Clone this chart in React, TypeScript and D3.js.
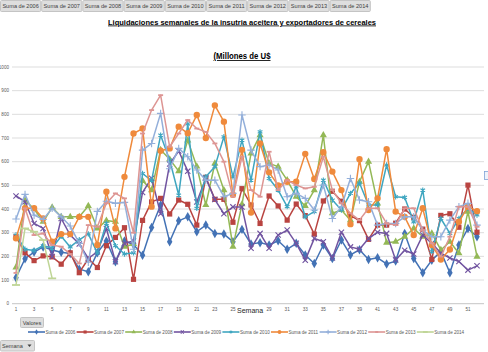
import React, { useEffect, useRef } from 'react';
import * as d3 from 'd3';

const weeks = [
  1, 2, 3, 4, 5, 6, 7, 8, 9, 10, 11, 12, 13, 14, 15, 16, 17, 18, 19, 20, 21, 22, 23, 24, 25, 26,
  27, 28, 29, 30, 31, 32, 33, 34, 35, 36, 37, 38, 39, 40, 41, 42, 43, 44, 45, 46, 47, 48, 49, 50, 51, 52,
];
// week 27's label sits under the "Semana" axis title in the original, so it is not drawn
const hiddenWeekLabels = [27];
const yTicks = [0, 100, 200, 300, 400, 500, 600, 700, 800, 900, 1000];
const seriesNames = [
  'Suma de 2006', 'Suma de 2007', 'Suma de 2008', 'Suma de 2009', 'Suma de 2010',
  'Suma de 2011', 'Suma de 2012', 'Suma de 2013', 'Suma de 2014',
];

const s2006 = [110, 190, 218, 240, 227, 217, 212, 146, 135, 215, 265, 177, 265, 250, 205, 322, 417, 262, 350, 367, 304, 332, 297, 294, 262, 314,
  252, 258, 248, 266, 230, 255, 206, 170, 248, 191, 269, 206, 228, 187, 194, 168, 180, 297, 191, 131, 184, 220, 131, 248, 318, 283];
const s2007 = [283, 215, 182, 202, 198, 167, 215, 131, 190, 153, 245, 280, 321, 103, 352, 430, 445, 379, 438, 420, 332, 534, 441, 441, 344, 486,
  417, 339, 455, 413, 353, 421, 372, 294, 434, 475, 433, 372, 351, 272, 332, 332, 340, 400, 365, 315, 187, 373, 380, 323, 501, 302];
const s2008 = [153, 438, 400, 346, 407, 367, 367, 367, 413, 318, 351, 346, 241, 252, 520, 480, 650, 610, 560, 690, 580, 417, 593, 480, 241, 420,
  635, 712, 593, 579, 522, 452, 413, 480, 712, 382, 396, 353, 515, 600, 424, 258, 262, 283, 318, 283, 297, 227, 262, 213, 389, 199];
const s2009 = [455, 431, 339, 318, 199, 360, 290, 252, 191, 220, 318, 177, 255, 265, 470, 530, 380, 590, 645, 560, 430, 530, 440, 380, 409, 409,
  234, 297, 234, 290, 311, 255, 184, 276, 262, 193, 302, 240, 230, 275, 302, 297, 185, 226, 210, 290, 255, 214, 193, 178, 142, 160];
const s2010 = [290, 230, 225, 245, 235, 285, 240, 270, 295, 215, 340, 245, 210, 215, 550, 520, 712, 607, 459, 760, 403, 536, 579, 705, 536, 691,
  522, 726, 529, 480, 410, 494, 367, 389, 522, 438, 396, 466, 510, 417, 417, 586, 452, 449, 346, 480, 220, 360, 297, 360, 403, 375];
const s2011 = [276, 403, 403, 360, 262, 294, 294, 367, 367, 248, 473, 318, 536, 719, 740, 410, 646, 656, 748, 720, 797, 700, 838, 769, 460, 650,
  385, 677, 555, 500, 515, 515, 633, 527, 640, 558, 480, 336, 610, 396, 445, 653, 389, 367, 290, 403, 248, 187, 229, 346, 410, 391];
const s2012 = [358, 462, 374, 356, 403, 367, 328, 255, 175, 390, 433, 424, 428, 230, 649, 677, 804, 570, 656, 621, 565, 522, 522, 452, 466, 797,
  649, 579, 586, 565, 452, 466, 445, 396, 501, 360, 410, 529, 438, 431, 332, 339, 339, 367, 367, 311, 283, 283, 353, 410, 424, 332];
const s2013 = [130, 403, 290, 297, 248, 241, 210, 170, 332, 325, 424, 466, 445, 300, 719, 818, 881, 663, 719, 776, 740, 726, 677, 600, 452, 621,
  480, 452, 642, 480, 522, 501, 487, 494, 621, 480, 424, 382, 353, 403, 403, 339, 332, 403, 403, 311, 255, 199, 283, 410, 410, 325];
const s2014 = [79, 318, 304, 269, 107];

const seriesValues = [s2006, s2007, s2008, s2009, s2010, s2011, s2012, s2013, s2014];
const seriesColors = ['#4372b5', '#b94441', '#93b856', '#7154a0', '#3fa6c0', '#ef8a3c', '#93afda', '#dd9593', '#bfd596'];
const seriesMarkers = ['diamond', 'square', 'triangle', 'times', 'asterisk', 'circle', 'plus', 'dash', 'longdash'];

const W = 488;
const H = 352;
const FONT = 'Liberation Sans, Arial, sans-serif';

function drawMarker(g: any, kind: string, x: number, y: number, color: string, scale = 1) {
  const sym: Record<string, any> = {
    diamond: d3.symbolDiamond, triangle: d3.symbolTriangle, times: d3.symbolTimes,
    asterisk: d3.symbolAsterisk, plus: d3.symbolPlus, circle: d3.symbolCircle,
  };
  if (kind === 'square') {
    g.append('rect').attr('x', x - 2.6 * scale).attr('y', y - 2.6 * scale)
      .attr('width', 5.2 * scale).attr('height', 5.2 * scale).attr('fill', color);
  } else if (kind === 'dash' || kind === 'longdash') {
    const hw = (kind === 'dash' ? 2.5 : 4) * scale;
    g.append('line').attr('x1', x - hw).attr('x2', x + hw).attr('y1', y).attr('y2', y)
      .attr('stroke', color).attr('stroke-width', 1.8);
  } else {
    const stroked = kind === 'times' || kind === 'asterisk' || kind === 'plus';
    const size = (kind === 'circle' ? 32 : kind === 'triangle' ? 22 : kind === 'diamond' ? 26 : 20) * scale * scale;
    g.append('path')
      .attr('transform', `translate(${x},${y})`)
      .attr('d', d3.symbol().type(sym[kind]).size(size)())
      .attr('fill', stroked ? 'none' : color)
      .attr('stroke', stroked ? color : 'none')
      .attr('stroke-width', stroked ? 1.1 : 0);
  }
}

const App: React.FC = () => {
  const svgRef = useRef<SVGSVGElement>(null);

  useEffect(() => {
    if (!svgRef.current) return;
    const svg = d3.select(svgRef.current);
    svg.selectAll('*').remove();

    const xScale = d3.scaleLinear().domain([1, 52]).range([16, 477]);
    const yScale = d3.scaleLinear().domain([0, 1000]).range([303.7, 67]);

    svg.append('rect').attr('width', W).attr('height', H).attr('fill', '#ffffff');

    // Field buttons bar
    const btn = svg.append('g');
    seriesNames.forEach((name, i) => {
      const bx = i * 41.2;
      btn.append('rect').attr('x', bx + 0.5).attr('y', 0.5).attr('width', 40.2).attr('height', 11)
        .attr('fill', '#dedede').attr('stroke', '#c4c4c4').attr('rx', 1);
      btn.append('text').attr('x', bx + 20.6).attr('y', 8.3).attr('text-anchor', 'middle')
        .style('font-family', FONT).style('font-size', '5.6px').attr('fill', '#404040').text(name);
    });

    // Titles
    svg.append('text').attr('x', 242).attr('y', 24.5).attr('text-anchor', 'middle')
      .attr('textLength', 268).attr('lengthAdjust', 'spacingAndGlyphs')
      .style('font-family', FONT).style('font-size', '8px').style('font-weight', 'bold')
      .style('text-decoration', 'underline').attr('fill', '#000')
      .text('Liquidaciones semanales de la insutria aceitera y exportadores de cereales');
    svg.append('text').attr('x', 242).attr('y', 59).attr('text-anchor', 'middle')
      .attr('textLength', 57).attr('lengthAdjust', 'spacingAndGlyphs')
      .style('font-family', FONT).style('font-size', '8.5px').style('font-weight', 'bold')
      .style('text-decoration', 'underline').attr('fill', '#000')
      .text('(Millones de U$');

    // Gridlines + y labels
    const grid = svg.append('g');
    yTicks.forEach(t => {
      grid.append('line').attr('x1', 12).attr('x2', 484).attr('y1', yScale(t)).attr('y2', yScale(t))
        .attr('stroke', t === 0 ? '#bfbfbf' : '#d9d9d9').attr('stroke-width', 0.9);
      grid.append('text').attr('x', 9).attr('y', yScale(t) + 1.6).attr('text-anchor', 'end')
        .style('font-family', FONT).style('font-size', '4.6px').attr('fill', '#595959').text(t);
    });

    // x labels (odd weeks)
    weeks.filter(w => w % 2 === 1 && !hiddenWeekLabels.includes(w)).forEach(w => {
      svg.append('text').attr('x', xScale(w)).attr('y', 311).attr('text-anchor', 'middle')
        .style('font-family', FONT).style('font-size', '4.6px').attr('fill', '#595959').text(w);
    });
    svg.append('text').attr('x', 237).attr('y', 312.5).attr('text-anchor', 'start')
      .style('font-family', FONT).style('font-size', '7px').attr('fill', '#262626').text('Semana');

    // Series
    const line = d3.line<number>()
      .x((_, i) => xScale(weeks[i]))
      .y(d => yScale(d));
    seriesValues.forEach((vals, si) => {
      const g = svg.append('g');
      g.append('path').datum(vals).attr('d', line).attr('fill', 'none')
        .attr('stroke', seriesColors[si]).attr('stroke-width', 1.5).attr('stroke-linejoin', 'round');
      vals.forEach((v, i) => drawMarker(g, seriesMarkers[si], xScale(weeks[i]), yScale(v), seriesColors[si]));
    });

    // Valores button
    svg.append('rect').attr('x', 20.5).attr('y', 317.5).attr('width', 23).attr('height', 10)
      .attr('fill', '#dedede').attr('stroke', '#c4c4c4').attr('rx', 1);
    svg.append('text').attr('x', 32).attr('y', 324.8).attr('text-anchor', 'middle')
      .style('font-family', FONT).style('font-size', '5.6px').attr('fill', '#404040').text('Valores');

    // Legend
    const leg = svg.append('g');
    seriesNames.forEach((name, i) => {
      const lx = 28 + i * 48.6;
      const ly = 332;
      leg.append('line').attr('x1', lx).attr('x2', lx + 17).attr('y1', ly).attr('y2', ly)
        .attr('stroke', seriesColors[i]).attr('stroke-width', 1.6);
      drawMarker(leg, seriesMarkers[i], lx + 8.5, ly, seriesColors[i], 0.6);
      leg.append('text').attr('x', lx + 17.5).attr('y', ly + 1.6)
        .style('font-family', FONT).style('font-size', '4.6px').attr('fill', '#595959').text(name);
    });

    // Semana field button
    svg.append('rect').attr('x', 0.5).attr('y', 340.5).attr('width', 34).attr('height', 10.5)
      .attr('fill', '#dedede').attr('stroke', '#c4c4c4').attr('rx', 1);
    svg.append('text').attr('x', 2).attr('y', 348).style('font-family', FONT).style('font-size', '5.6px')
      .attr('fill', '#404040').text('Semana');
    svg.append('path').attr('d', 'M27.5,344.5 L31.5,344.5 L29.5,347 Z').attr('fill', '#404040');

    // clipped legend edge at right
    svg.append('rect').attr('x', 484.5).attr('y', 171.5).attr('width', 5).attr('height', 8)
      .attr('fill', '#eef3fb').attr('stroke', '#7fa3d6').attr('stroke-width', 0.8);
  }, []);

  return (
    <svg
      ref={svgRef}
      width={W}
      height={H}
      style={{ position: 'absolute', left: 0, top: 0, display: 'block' }}
    />
  );
};

export default App;
